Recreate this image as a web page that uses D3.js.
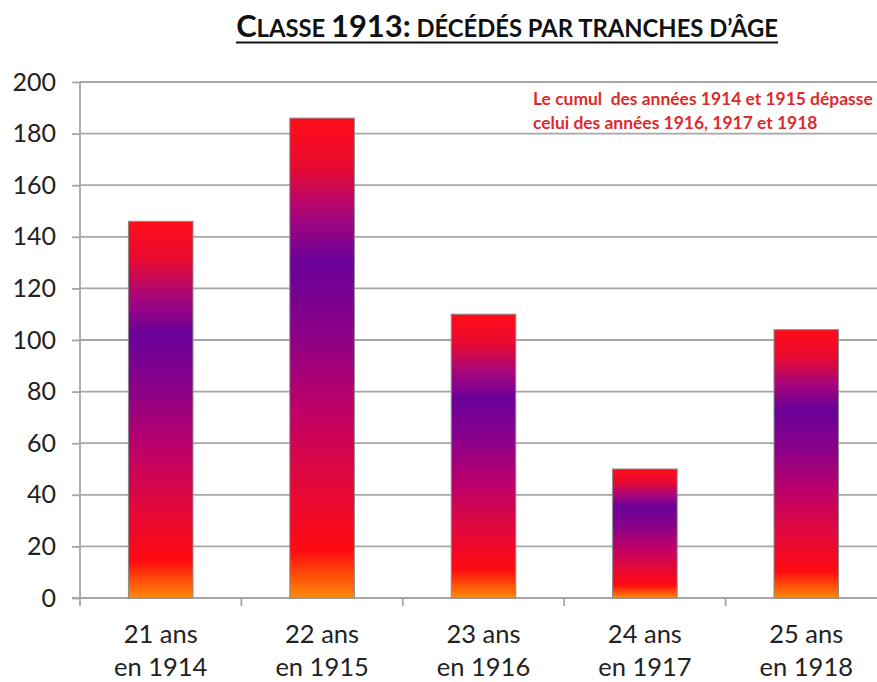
<!DOCTYPE html>
<html><head><meta charset="utf-8">
<script src="https://cdn.jsdelivr.net/npm/d3@7"></script>
<style>body{margin:0;background:#fff}svg{display:block}</style>
</head><body>
<script>
const categories = ["21 ans|en 1914","22 ans|en 1915","23 ans|en 1916","24 ans|en 1917","25 ans|en 1918"];
const values = [146, 186, 110, 50, 104];
const yTicks = [0,20,40,60,80,100,120,140,160,180,200];
const noteLines = ["Le cumul  des années 1914 et 1915 dépasse","celui des années 1916, 1917 et 1918"];

const W = 877, H = 682;
const m = {left: 80, top: 82, bottom: 84, right: -10};
const svg = d3.select("body").append("svg").attr("width", W).attr("height", H);
const font = "Lato, 'Open Sans', sans-serif";

const x = d3.scaleBand().domain(categories).range([m.left, W - m.right]).paddingInner(0.6).paddingOuter(0.3);
const y = d3.scaleLinear().domain([0, 200]).range([H - m.bottom, m.top]);

// gradient
const defs = svg.append("defs");
const g = defs.append("linearGradient").attr("id","barGrad").attr("x1",0).attr("y1",0).attr("x2",0).attr("y2",1);
[[0,"#ff0d18"],[0.1,"#e90a30"],[0.2,"#a8067a"],[0.3,"#6a0099"],[0.45,"#8c0088"],[0.6,"#bc006a"],[0.75,"#e0083e"],[0.9,"#ff0a10"],[0.95,"#ff4a0a"],[1,"#ff8a0a"]]
 .forEach(([o,c]) => g.append("stop").attr("offset",o).attr("stop-color",c));

// gridlines
svg.append("g").selectAll("line").data(yTicks.slice(1)).join("line")
  .attr("x1", m.left).attr("x2", W).attr("y1", d => y(d)).attr("y2", d => y(d))
  .attr("stroke", "#a6a6a6").attr("stroke-width", 1.8);

// y axis
const yAx = svg.append("g").attr("transform", `translate(${m.left},0)`)
  .call(d3.axisLeft(y).tickValues(yTicks).tickSize(8).tickPadding(16));
yAx.select(".domain").attr("stroke","#a6a6a6").attr("stroke-width",1.8).attr("d", `M0,${y(200)}V${y(0)+8}`);
yAx.selectAll(".tick line").attr("stroke","#a6a6a6").attr("stroke-width",1.8);
yAx.selectAll("text").attr("font-family", font).attr("font-size", 25).attr("fill","#222");

// x axis baseline
svg.append("line").attr("x1", m.left - 8).attr("x2", W).attr("y1", y(0)).attr("y2", y(0))
  .attr("stroke","#a6a6a6").attr("stroke-width",1.8);
// category boundary ticks
const step = x.step();
svg.append("g").selectAll("line").data(categories.slice(1)).join("line")
  .attr("x1", d => x(d) + x.bandwidth()/2 - step/2)
  .attr("x2", d => x(d) + x.bandwidth()/2 - step/2)
  .attr("y1", y(0)).attr("y2", y(0)+8)
  .attr("stroke","#a6a6a6").attr("stroke-width",1.8);

// bars
svg.append("g").selectAll("rect").data(values).join("rect")
  .attr("x", (d,i) => x(categories[i])).attr("width", x.bandwidth())
  .attr("y", d => y(d)).attr("height", d => y(0) - y(d))
  .attr("fill","url(#barGrad)").attr("stroke","#8a8a8a").attr("stroke-width",1);

// x labels
const xl = svg.append("g").selectAll("text").data(categories).join("text")
  .attr("x", d => x(d) + x.bandwidth()/2).attr("y", 643)
  .attr("text-anchor","middle").attr("font-family", font).attr("font-size", 25.5).attr("fill","#222");
xl.each(function(d){
  const parts = d.split("|");
  d3.select(this).selectAll("tspan").data(parts).join("tspan")
    .attr("x", x(d) + x.bandwidth()/2).attr("dy", (p,i) => i ? 33 : 0).text(p => p);
});

// title
const t = svg.append("text").attr("x", 507).attr("y", 37).attr("text-anchor","middle")
  .attr("font-family", font).attr("font-weight","bold").attr("fill","#111");
const titleParts = [["C",1.3],["LASSE ",1],["1913:",1.3],[" DÉCÉDÉS PAR TRANCHES D’ÂGE",1]];
titleParts.forEach(([s,k]) => t.append("tspan").attr("data-k",k).attr("font-size", 20*k).text(s));
const tw = t.node().getComputedTextLength();
const base = 20 * 542 / tw;
t.selectAll("tspan").attr("font-size", function(){ return base * (+this.getAttribute("data-k")); });
svg.append("line").attr("x1",236).attr("x2",778).attr("y1",42.5).attr("y2",42.5).attr("stroke","#111").attr("stroke-width",2);

// note
const notes = svg.append("g").selectAll("text").data(noteLines).join("text")
  .attr("x", 533).attr("y", (d,i) => 105 + i*24)
  .attr("font-family", font).attr("font-weight","bold").attr("font-size", 16)
  .attr("fill","#dd2a2a").style("white-space","pre").text(d => d);
const nw = notes.nodes()[0].getComputedTextLength();
notes.attr("font-size", 16 * 340 / nw);
</script>
</body></html>
